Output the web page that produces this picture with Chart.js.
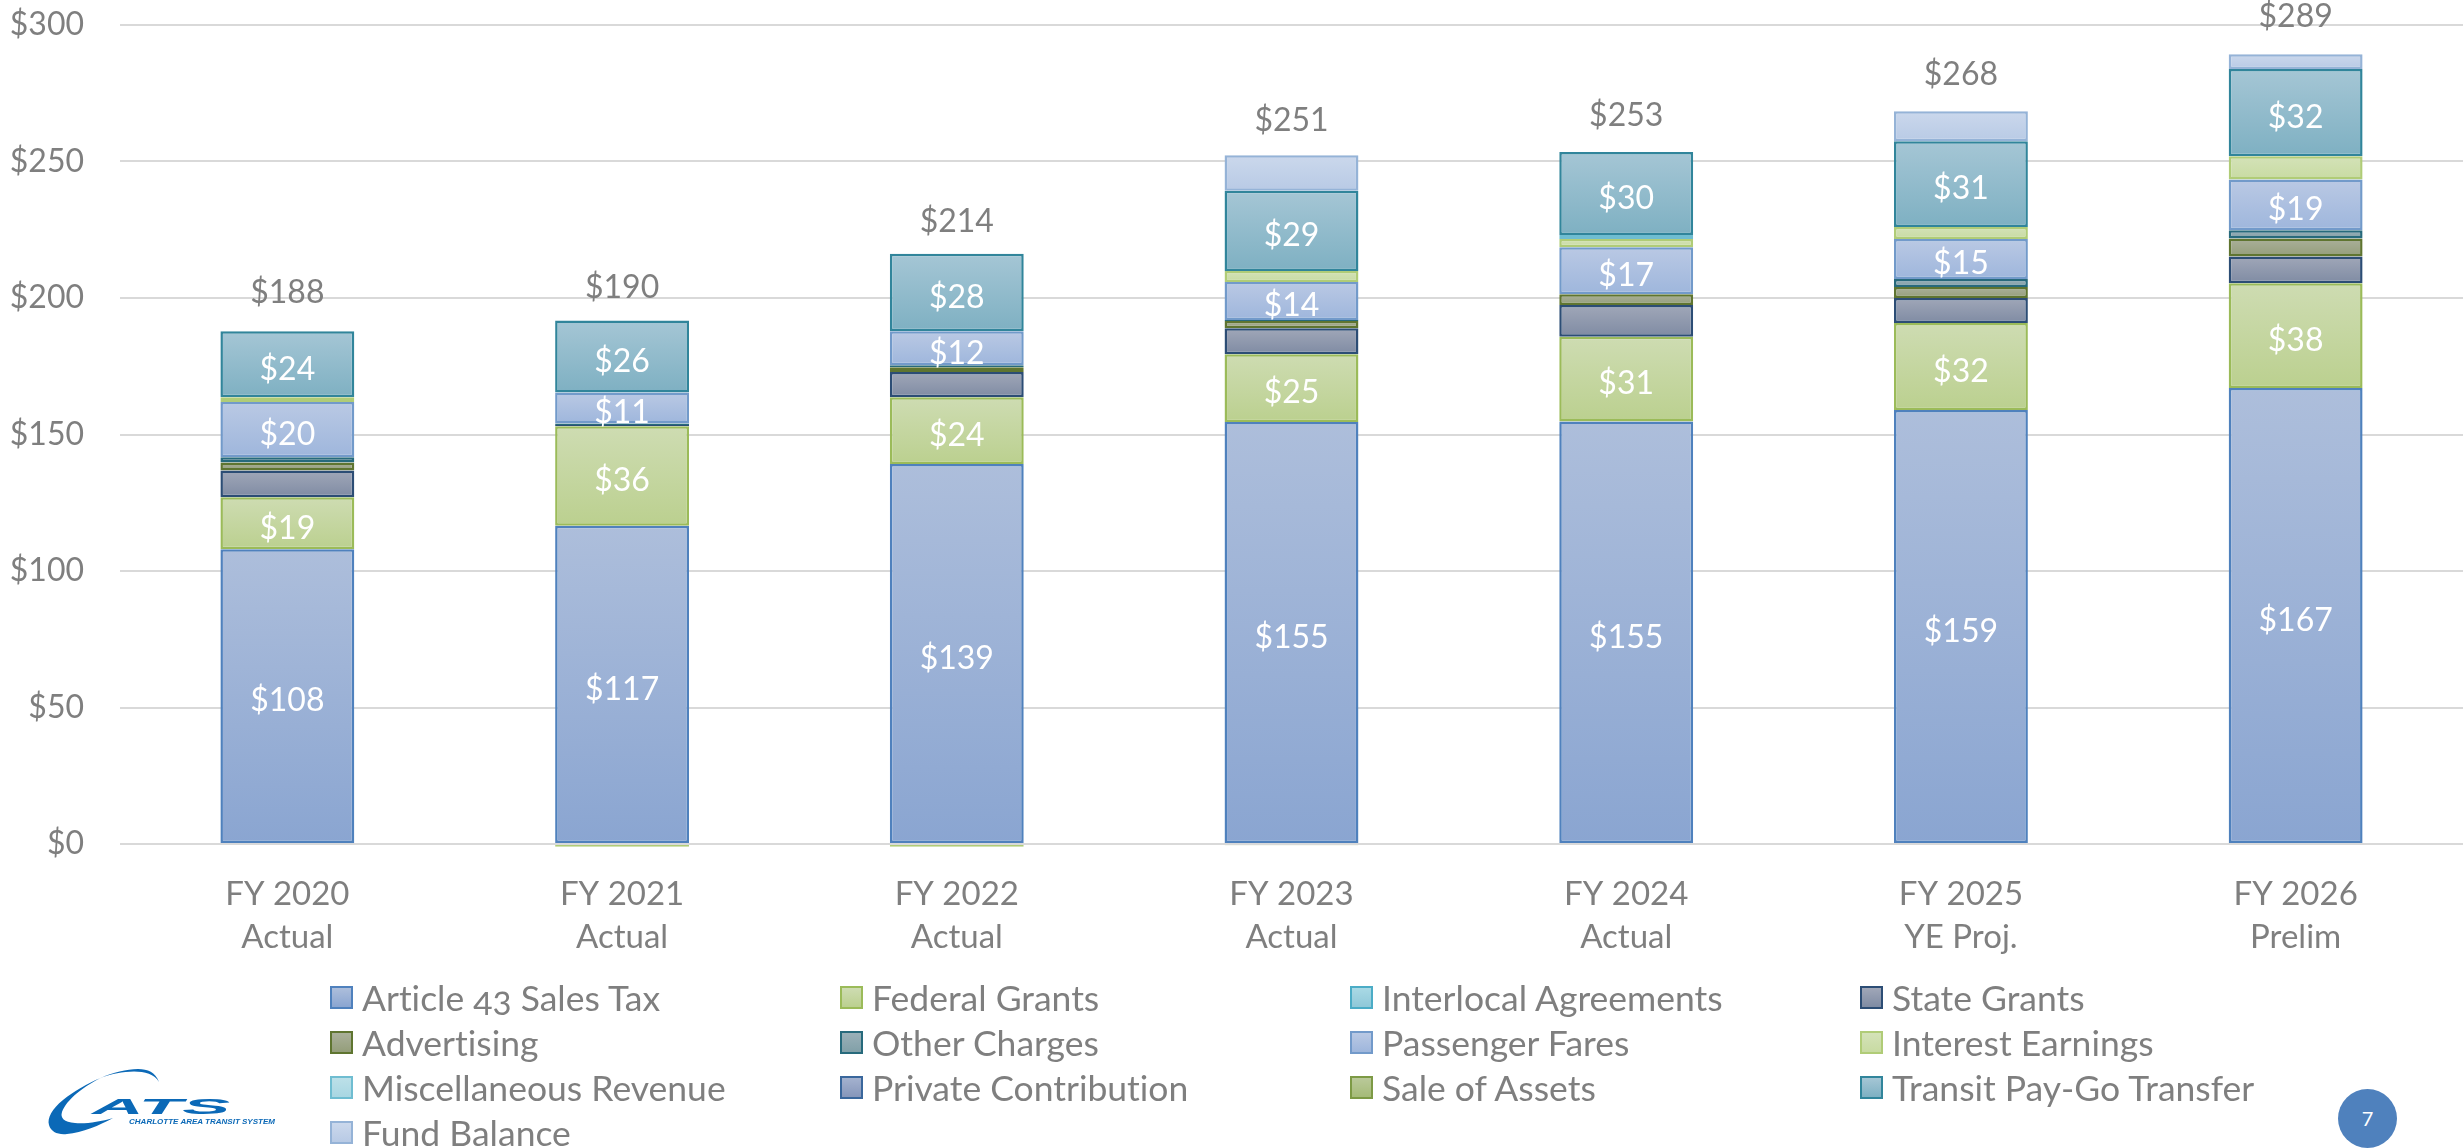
<!DOCTYPE html>
<html lang="en">

<head>
    <meta charset="UTF-8">
    <title>CATS Revenue</title>
    <script src="https://cdn.jsdelivr.net/npm/chart.js"></script>
    <style>
        html, body {
            margin: 0;
            padding: 0;
            background: #fff;
        }

        #page {
            position: relative;
            width: 2464px;
            height: 1148px;
            overflow: hidden;
            font-family: Lato, sans-serif;
        }

        #revenueChart {
            position: absolute;
            left: 0;
            top: 0;
        }

        .legend-item {
            position: absolute;
            height: 45px;
            line-height: 45px;
            font-size: 35.5px;
            color: #7f7f7f;
            white-space: nowrap;
            font-variant-numeric: oldstyle-nums;
            font-variant-ligatures: none;
        }

        .legend-item i {
            position: absolute;
            left: 0;
            top: 11px;
            width: 19px;
            height: 19px;
            border-style: solid;
            border-width: 2px;
        }

        .legend-item span {
            position: absolute;
            left: 32px;
            top: 0;
        }

        #logo {
            position: absolute;
            left: 0;
            top: 1050px;
        }

        #pageNum {
            position: absolute;
            left: 2338px;
            top: 1089px;
            width: 59px;
            height: 59px;
            border-radius: 50%;
            background: #4f81bd;
            color: #fff;
            font-size: 20px;
            line-height: 59px;
            text-align: center;
        }
    </style>
</head>

<body>
    <div id="page">
        <canvas id="revenueChart" width="2464" height="1148"></canvas>
        <div id="legend"></div>
        <svg id="logo" width="290" height="98" viewBox="0 0 290 98">
            <path fill="#0b69b7" d="M159,32 C155,22 148,19 138,19 C115,19 85,33 63,50 C52,59 47,68 49,75 C51,82 58,85 67,84 C82,83 100,75 113,68 C100,72 85,74 75,73 C64,72 60,68 62,62 C66,50 85,35 103,27 C118,22 150,16 159,32 Z" />
            <text x="92" y="64" fill="#0b69b7" font-family="Liberation Sans" font-size="22" font-weight="bold" font-style="italic" textLength="138" lengthAdjust="spacingAndGlyphs">ATS</text>
            <text x="129" y="74" fill="#0b69b7" font-family="Liberation Sans" font-size="7.5" font-weight="bold" font-style="italic" textLength="146" lengthAdjust="spacingAndGlyphs">CHARLOTTE AREA TRANSIT SYSTEM</text>
        </svg>
        <div id="pageNum">7</div>
    </div>

    <script>
        // categories, split over two lines under the axis
        const categories = [
            ['FY 2020', 'Actual'],
            ['FY 2021', 'Actual'],
            ['FY 2022', 'Actual'],
            ['FY 2023', 'Actual'],
            ['FY 2024', 'Actual'],
            ['FY 2025', 'YE Proj.'],
            ['FY 2026', 'Prelim']
        ];

        const salesTax = [108, 116.6, 139.2, 154.6, 154.8, 159, 167];
        const federalGrants = [19, 36.4, 24.4, 24.8, 31, 31.8, 38.4];
        const interlocal = [null, null, null, null, null, null, null];
        const stateGrants = [9.8, 0.5, 9.3, 9.5, 11.6, 9.2, 9.8];
        const advertising = [2.9, null, 1.7, 2.7, 4, 4, 6.6];
        const otherCharges = [2, 0.5, 0.8, 0.3, null, 3, 3];
        const passengerFares = [20.2, 11.4, 12.4, 14, 17.2, 14.6, 18.6];
        const interestEarnings = [1.7, -1, -1, 4, 3, 4.4, 8.5];
        const miscRevenue = [null, null, null, null, 1.5, null, null];
        const privateContribution = [null, null, null, null, null, null, null];
        const saleOfAssets = [null, null, null, -0.5, null, null, null];
        const payGoTransfer = [24.2, 26.4, 28.4, 29.4, 30.4, 31.4, 32];
        const fundBalance = [null, null, null, 13, null, 11, 5.4];

        const totals = [188, 190, 214, 251, 253, 268, 289];
        const yTicks = [0, 50, 100, 150, 200, 250, 300];

        // name, values, border, gradient top, gradient bottom, white labels inside
        const seriesList = [
            ['Article 43 Sales Tax', salesTax, '#4f81bd', '#adbedb', '#8aa5d1', true],
            ['Federal Grants', federalGrants, '#9bbb59', '#cedcb2', '#bbd08f', true],
            ['Interlocal Agreements', interlocal, '#4bacc6', '#a9d9e5', '#8fc8d8', false],
            ['State Grants', stateGrants, '#2c4d75', '#a0a7b8', '#7f8ba3', false],
            ['Advertising', advertising, '#5f7530', '#aab09a', '#949e7a', false],
            ['Other Charges', otherCharges, '#276a7c', '#9ab0b8', '#81a0a8', false],
            ['Passenger Fares', passengerFares, '#729aca', '#bac9e4', '#9eb6dc', true],
            ['Interest Earnings', interestEarnings, '#b0cc77', '#d4e2b8', '#c8dba2', false],
            ['Miscellaneous Revenue', miscRevenue, '#6fbdd1', '#bce0e8', '#a8d6e2', false],
            ['Private Contribution', privateContribution, '#3a679c', '#a4b2cf', '#8696ba', false],
            ['Sale of Assets', saleOfAssets, '#7d9a45', '#bac99a', '#a5bb78', false],
            ['Transit Pay-Go Transfer', payGoTransfer, '#31859b', '#a5c6d5', '#7eb0c2', true],
            ['Fund Balance', fundBalance, '#95b3d7', '#cbd8ec', '#b8cae5', false]
        ];

        const textColor = '#7f7f7f';
        const chartFont = { family: 'Lato', size: 32 };

        function stackStart(seriesIndex, dataIndex) {
            let sum = 0;
            for (let i = 0; i < seriesIndex; i++) {
                const v = seriesList[i][1][dataIndex];
                if (v > 0) sum += v;
            }
            return sum;
        }

        function barFill(context, top, bottom) {
            const chart = context.chart;
            const yScale = chart.scales.y;
            if (context.dataIndex === undefined || !yScale) return bottom;
            const value = seriesList[context.datasetIndex][1][context.dataIndex];
            const start = stackStart(context.datasetIndex, context.dataIndex);
            const y0 = yScale.getPixelForValue(start);
            const y1 = yScale.getPixelForValue(start + Math.abs(value || 0));
            if (!isFinite(y0) || !isFinite(y1) || y0 === y1) return bottom;
            const gradient = chart.ctx.createLinearGradient(0, y1, 0, y0);
            gradient.addColorStop(0, top);
            gradient.addColorStop(1, bottom);
            return gradient;
        }

        // white values inside the bars and the totals over them
        const barLabels = {
            id: 'barLabels',
            afterDatasetsDraw(chart) {
                const ctx = chart.ctx;
                ctx.save();
                ctx.font = chartFont.size + 'px ' + chartFont.family;
                ctx.textAlign = 'center';
                ctx.textBaseline = 'middle';

                ctx.fillStyle = '#ffffff';
                seriesList.forEach(function (series, i) {
                    if (!series[5]) return;
                    chart.getDatasetMeta(i).data.forEach(function (bar, j) {
                        ctx.fillText('$' + Math.round(series[1][j]), bar.x, (bar.y + bar.base) / 2 + 5);
                    });
                });

                ctx.fillStyle = textColor;
                totals.forEach(function (total, j) {
                    const x = chart.scales.x.getPixelForValue(j);
                    ctx.fillText('$' + total, x, chart.scales.y.getPixelForValue(total) - 38);
                });
                ctx.restore();
            }
        };

        new Chart(document.getElementById('revenueChart').getContext('2d'), {
            type: 'bar',
            data: {
                labels: categories,
                datasets: seriesList.map(function (series) {
                    return {
                        label: series[0],
                        data: series[1],
                        borderColor: series[2],
                        borderWidth: 2.5,
                        borderSkipped: false,
                        backgroundColor: function (context) {
                            return barFill(context, series[3], series[4]);
                        },
                        categoryPercentage: 1,
                        barPercentage: 0.4,
                        clip: false
                    };
                })
            },
            plugins: [barLabels],
            options: {
                responsive: false,
                animation: false,
                events: [],
                layout: { padding: { top: 25, right: 1 } },
                plugins: {
                    legend: { display: false },
                    tooltip: { enabled: false }
                },
                scales: {
                    x: {
                        stacked: true,
                        grid: { display: false },
                        border: { display: false },
                        ticks: {
                            color: textColor,
                            font: { family: 'Lato', size: 33, lineHeight: 1.33 },
                            padding: 20,
                            maxRotation: 0,
                            autoSkip: false
                        },
                        afterFit(scale) {
                            scale.height = 304;
                        }
                    },
                    y: {
                        stacked: true,
                        min: 0,
                        max: 300,
                        afterBuildTicks(scale) {
                            scale.ticks = yTicks.map(function (v) {
                                return { value: v };
                            });
                        },
                        grid: { color: '#d9d9d9', lineWidth: 2, drawTicks: false },
                        border: { display: false },
                        ticks: {
                            color: textColor,
                            font: chartFont,
                            padding: 36,
                            callback: function (value) {
                                return '$' + value;
                            }
                        },
                        afterFit(scale) {
                            scale.width = 120;
                            scale.paddingTop = 0;
                            scale.paddingBottom = 0;
                        }
                    }
                }
            }
        });

        // legend laid out in four uneven columns like the slide
        const legendColumns = [330, 840, 1350, 1860];
        const legendRows = [975, 1020, 1065, 1110];
        const legendBox = document.getElementById('legend');
        seriesList.forEach(function (series, i) {
            const item = document.createElement('div');
            item.className = 'legend-item';
            item.style.left = legendColumns[i % 4] + 'px';
            item.style.top = legendRows[Math.floor(i / 4)] + 'px';
            const swatch = document.createElement('i');
            swatch.style.borderColor = series[2];
            swatch.style.background = 'linear-gradient(' + series[3] + ',' + series[4] + ')';
            const text = document.createElement('span');
            text.textContent = series[0];
            item.appendChild(swatch);
            item.appendChild(text);
            legendBox.appendChild(item);
        });
    </script>
</body>

</html>
